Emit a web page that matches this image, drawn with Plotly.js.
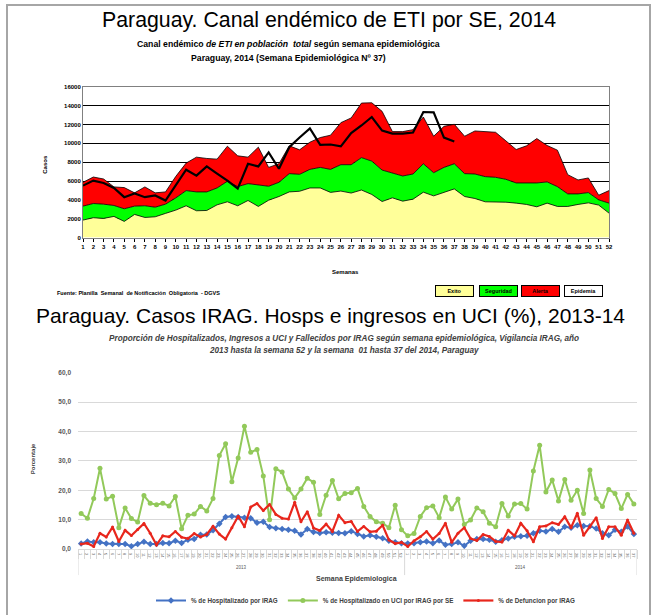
<!DOCTYPE html>
<html>
<head>
<meta charset="utf-8">
<script src="https://cdn.plot.ly/plotly-3.0.1.min.js"></script>
<style>html,body{margin:0;padding:0;background:#fff;}#chart{width:658px;height:615px;}</style>
</head>
<body>
<div id="chart"></div>
<script>
// ---------- Chart 1: Canal endémico ETI 2014 ----------
const semanas = [1,2,3,4,5,6,7,8,9,10,11,12,13,14,15,16,17,18,19,20,21,22,23,24,25,26,27,28,29,30,31,32,33,34,35,36,37,38,39,40,41,42,43,44,45,46,47,48,49,50,51,52];
const exito = [1860,2110,2040,2250,1720,2460,2140,2210,2570,2920,3380,2850,2880,3480,3800,3380,3940,3310,3970,4360,4850,4920,5270,5270,4800,4940,4730,5050,4580,3830,4220,3870,4080,4820,4430,4780,5170,4360,4150,3800,3800,3760,3660,3520,3270,3660,3310,3310,3520,3690,3450,2600];
const seguridad = [3340,3620,3550,3410,3060,3340,3380,3230,3550,4220,4990,4850,4850,5270,5980,5410,5730,5590,5450,5870,6790,6720,7240,7450,7240,7740,7740,8490,8120,7170,6890,6540,6750,7840,6890,7450,7840,6790,6750,6470,6400,6190,5800,5800,5800,5910,5410,4640,4640,4780,4010,3660];
const alerta = [5870,6430,6220,5380,5310,4750,5380,4750,4850,6500,7910,8540,8400,8330,9700,8680,8540,9600,7450,7840,9740,9320,10130,10620,10870,12200,12700,14280,14310,13400,11250,11250,11460,12800,10760,11810,12030,10760,11320,11250,11180,10270,9350,9740,10510,9780,9280,6680,6120,6330,4500,4990];
const semanas2014 = [1,2,3,4,5,6,7,8,9,10,11,12,13,14,15,16,17,18,19,20,21,22,23,24,25,26,27,28,29,30,31,32,33,34,35,36,37];
const casos2014 = [5520,6050,5800,5270,4290,4680,4290,4470,3940,5600,7210,6580,7560,6790,6050,5200,7840,7560,9040,7310,9600,10620,11600,9850,9880,9680,11100,11900,12800,11360,11040,11040,11150,13330,13290,10620,10200];
const legendLabels1 = ["Exito","Seguridad","Alerta","Epidemia"];
const legendColors1 = ["#FFFF99","#00FF00","#FF0000","#FFFFFF"];

// ---------- Chart 2: IRAG 2013-2014 ----------
const anios = ["2013","2014"];
const sem2013 = ["1","2","3","4","5","6","7","8","9","10","11","12","13","14","15","16","17","18","19","20","21","22","23","24","25","26","27","28","29","30","31","32","33","34","35","36","37","38","39","40","41","42","43","44","45","46","47","48","49","50","51","52"];
const sem2014 = ["1","2","3","4","5","6","7","8","9","10","11","12","13","14","15","16","17","18","19","20","21","22","23","24","25","26","27","28","29","30","31","32","33","34","35","36","37"];
const hosp2013 = [1.9,2.6,2.3,2.3,1.9,1.7,1.7,1.7,1.0,1.7,2.5,1.7,1.7,2.1,2.0,2.8,2.1,3.2,3.4,4.9,5.0,6.4,8.6,10.9,11.2,10.9,10.7,10.5,9.0,9.3,7.5,7.1,6.8,6.6,6.2,5.0,6.8,5.8,5.5,5.7,5.6,5.5,5.4,6.1,5.1,4.3,4.7,4.2,3.7,2.8,2.3,2.0];
const hosp2014 = [1.9,2.0,2.3,2.6,2.0,2.9,1.5,1.7,2.3,1.1,2.8,3.4,3.4,3.2,2.5,3.0,3.6,4.2,4.4,4.5,5.4,6.2,6.0,6.8,5.9,7.6,7.3,8.1,7.9,7.8,7.0,5.4,4.7,6.6,5.9,7.7,5.1];
const uci2013 = [12.1,10.5,17.2,27.5,17.0,18.0,7.3,14.0,10.4,9.2,18.2,15.6,15.1,15.6,14.7,17.9,6.9,11.5,11.9,14.5,13.0,17.2,31.8,35.8,22.9,31.0,41.8,32.9,33.9,24.9,10.0,27.3,26.2,20.4,17.4,20.4,24.1,22.7,11.8,18.3,23.3,17.1,18.9,19.2,20.6,14.5,11.1,9.3,8.8,7.3,14.9,6.6];
const uci2014 = [4.5,5.3,11.1,14.1,14.7,10.7,17.7,13.6,17.0,8.4,9.9,14.0,12.7,8.8,7.6,15.5,11.3,15.3,15.5,13.6,26.6,35.3,19.4,23.5,16.4,23.7,16.6,20.0,12.1,26.9,17.2,14.5,20.3,18.9,13.8,18.6,15.3];
const def2013 = [1.7,2.0,0.9,5.4,4.1,7.5,2.6,6.4,4.6,6.7,8.7,5.4,1.4,4.5,4.2,6.0,4.0,3.6,5.3,4.1,5.0,7.8,5.1,3.4,7.3,11.2,7.6,14.3,15.5,13.1,15.2,11.8,10.5,10.2,15.9,9.3,12.7,7.2,6.3,8.5,6.0,11.5,9.0,9.4,6.0,7.7,5.9,6.1,8.1,3.1,1.9,2.3];
const def2014 = [0.9,2.8,4.2,6.0,3.4,5.3,8.8,2.3,5.4,7.3,3.6,2.9,5.0,4.3,2.6,2.4,6.4,4.5,8.8,6.2,2.5,7.6,7.9,9.0,8.4,11.0,7.3,12.2,4.7,7.7,10.7,3.6,7.6,7.6,4.7,9.9,5.4];
const seriesNames2 = ["% de Hospitalizado por IRAG","% de Hospitalizado en UCI por IRAG por SE","% de Defuncion por IRAG"];
const seriesColors2 = ["#4472C4","#92C95A","#E8261C"];

// ---------- helpers ----------
const W = 658, H = 615;
const px = v => v / W;
const py = v => 1 - v / H;
const FONT = "Liberation Sans, Arial, sans-serif";

const semLabels = sem2013.concat(sem2014);
const idx = semLabels.map((_, i) => i + 1);
const hosp = hosp2013.concat(hosp2014);
const uci = uci2013.concat(uci2014);
const def = def2013.concat(def2014);
const boundaries = semLabels.map((_, i) => i + 0.5).concat([semLabels.length + 0.5]);

const traces = [
  {x: semanas, y: exito, type: 'scatter', mode: 'lines', fill: 'tozeroy', fillcolor: legendColors1[0],
   line: {color: '#000', width: 0.8}, xaxis: 'x', yaxis: 'y', showlegend: false, name: legendLabels1[0]},
  {x: semanas, y: seguridad, type: 'scatter', mode: 'lines', fill: 'tonexty', fillcolor: legendColors1[1],
   line: {color: '#000', width: 0.8}, xaxis: 'x', yaxis: 'y', showlegend: false, name: legendLabels1[1]},
  {x: semanas, y: alerta, type: 'scatter', mode: 'lines', fill: 'tonexty', fillcolor: legendColors1[2],
   line: {color: '#000', width: 0.8}, xaxis: 'x', yaxis: 'y', showlegend: false, name: legendLabels1[2]},
  {x: semanas2014, y: casos2014, type: 'scatter', mode: 'lines',
   line: {color: '#000', width: 2.2}, xaxis: 'x', yaxis: 'y', showlegend: false, name: '2014'},
  {x: idx, y: hosp, type: 'scatter', mode: 'lines+markers', name: seriesNames2[0],
   line: {color: seriesColors2[0], width: 2}, marker: {symbol: 'diamond', size: 5, color: seriesColors2[0]},
   xaxis: 'x2', yaxis: 'y2'},
  {x: idx, y: uci, type: 'scatter', mode: 'lines+markers', name: seriesNames2[1],
   line: {color: seriesColors2[1], width: 2}, marker: {symbol: 'circle', size: 5, color: seriesColors2[1]},
   xaxis: 'x2', yaxis: 'y2'},
  {x: idx, y: def, type: 'scatter', mode: 'lines+markers', name: seriesNames2[2],
   line: {color: seriesColors2[2], width: 2.2}, marker: {symbol: 'circle', size: 3, color: seriesColors2[2]},
   xaxis: 'x2', yaxis: 'y2'}
];

const annotations = [
  {text: 'Paraguay. Canal endémico de ETI por SE, 2014', x: px(329), y: py(20), font: {size: 21.3, color: '#000', family: FONT}},
  {text: '<b>Canal endémico <i>de ETI en población  total</i> según semana epidemiológica</b>', x: px(288), y: py(44), font: {size: 8.7, color: '#000', family: FONT}},
  {text: '<b>Paraguay, 2014 (Semana Epidemiológica Nº 37)</b>', x: px(288), y: py(58), font: {size: 8.7, color: '#000', family: FONT}},
  {text: '<b>Casos</b>', x: px(45), y: py(165), textangle: -90, font: {size: 6, color: '#000', family: FONT}},
  {text: '<b>Semanas</b>', x: px(345), y: py(272), font: {size: 6, color: '#000', family: FONT}},
  {text: '<b>Fuente: Planilla  Semanal  de Notificación  Obligatoria  - DGVS</b>', x: px(55), y: py(293), xanchor: 'left', font: {size: 5.5, color: '#000', family: FONT}},
  {text: 'Paraguay. Casos IRAG. Hosps e ingresos en UCI (%), 2013-14', x: px(330), y: py(316), font: {size: 21, color: '#000', family: FONT}},
  {text: '<b><i>Proporción de Hospitalizados, Ingresos a UCI y Fallecidos por IRAG según semana epidemiológica, Vigilancia IRAG, año</i></b>', x: px(344), y: py(339), font: {size: 8.2, color: '#404040', family: FONT}},
  {text: '<b><i>2013 hasta la semana 52 y la semana  01 hasta 37 del 2014, Paraguay</i></b>', x: px(344), y: py(351), font: {size: 8.2, color: '#404040', family: FONT}},
  {text: '<b>Porcentaje</b>', x: px(33), y: py(460), textangle: -90, font: {size: 6, color: '#404040', family: FONT}},
  {text: '<b>Semana Epidemiologica</b>', x: px(357), y: py(580), font: {size: 7, color: '#404040', family: FONT}},
  {text: anios[0], xref: 'x2', x: (1 + sem2013.length) / 2, y: py(568), font: {size: 4.5, color: '#595959', family: FONT}},
  {text: anios[1], xref: 'x2', x: sem2013.length + (1 + sem2014.length) / 2, y: py(568), font: {size: 4.5, color: '#595959', family: FONT}}
];
const boxCenters = [454, 498, 540, 583];
legendLabels1.forEach((lab, i) => {
  annotations.push({text: '<b>' + lab + '</b>', x: px(boxCenters[i]), y: py(291), width: 37, height: 10,
    bgcolor: legendColors1[i], bordercolor: '#000', borderwidth: 1, borderpad: 0,
    font: {size: 5.5, color: '#000', family: FONT}});
});
annotations.forEach(a => {
  if (!a.xref) a.xref = 'paper';
  a.yref = 'paper';
  a.showarrow = false;
  if (!a.xanchor) a.xanchor = 'center';
  a.yanchor = 'middle';
});

const shapes = [
  {type: 'rect', xref: 'paper', yref: 'paper', x0: px(7), x1: px(650), y0: py(625), y1: py(5),
   line: {color: '#A6A6A6', width: 2}, fillcolor: 'rgba(0,0,0,0)', layer: 'below'}
];
[0.5, sem2013.length + 0.5, semLabels.length + 0.5].forEach(xv => {
  shapes.push({type: 'line', xref: 'x2', yref: 'paper', x0: xv, x1: xv, y0: py(550), y1: py(576),
    line: {color: '#D9D9D9', width: 1}});
});

const layout = {
  width: W, height: H,
  margin: {l: 0, r: 0, t: 0, b: 0},
  paper_bgcolor: '#fff', plot_bgcolor: 'rgba(0,0,0,0)',
  font: {family: FONT},
  separators: ',.',
  xaxis: {domain: [px(83), px(609)], anchor: 'y', range: [1, 52], tickmode: 'array', tickvals: semanas,
    ticks: 'outside', ticklen: 3, tickcolor: '#000', showline: true, linecolor: '#808080', linewidth: 1,
    mirror: true, showgrid: false, zeroline: false,
    tickfont: {size: 6, color: '#000', weight: 'bold'}},
  yaxis: {domain: [py(238), py(87)], anchor: 'x', range: [0, 16000], dtick: 2000, tickformat: 'd',
    showgrid: true, gridcolor: '#000', gridwidth: 1, showline: true, linecolor: '#808080', mirror: true,
    zeroline: false, ticks: '', tickfont: {size: 6, color: '#000', weight: 'bold'}},
  xaxis2: {domain: [px(78), px(637)], anchor: 'y2', range: [0.5, semLabels.length + 0.5], tickmode: 'array',
    tickvals: idx, ticktext: semLabels, ticks: '', showgrid: false, zeroline: false,
    showline: true, linecolor: '#D9D9D9', linewidth: 1,
    tickfont: {size: 4, color: '#595959'},
    minor: {tickmode: 'array', tickvals: boundaries, ticks: 'outside', ticklen: 9, tickcolor: '#D9D9D9', tickwidth: 1, showgrid: false}},
  yaxis2: {domain: [py(550), py(373.3)], anchor: 'x2', range: [0, 60], dtick: 10, tickformat: '.1f',
    showgrid: true, gridcolor: '#D9D9D9', gridwidth: 1, zeroline: false, showline: false, ticks: '',
    ticklabelstandoff: 6, tickfont: {size: 6.5, color: '#595959', weight: 'bold'}},
  showlegend: true,
  legend: {orientation: 'h', traceorder: 'normal', x: px(366), xanchor: 'center', y: py(601), yanchor: 'middle',
    font: {size: 6.3, color: '#404040', weight: 'bold'}, itemwidth: 30, bgcolor: 'rgba(0,0,0,0)'},
  annotations: annotations,
  shapes: shapes
};

Plotly.newPlot('chart', traces, layout, {staticPlot: true, displayModeBar: false});
</script>
</body>
</html>
